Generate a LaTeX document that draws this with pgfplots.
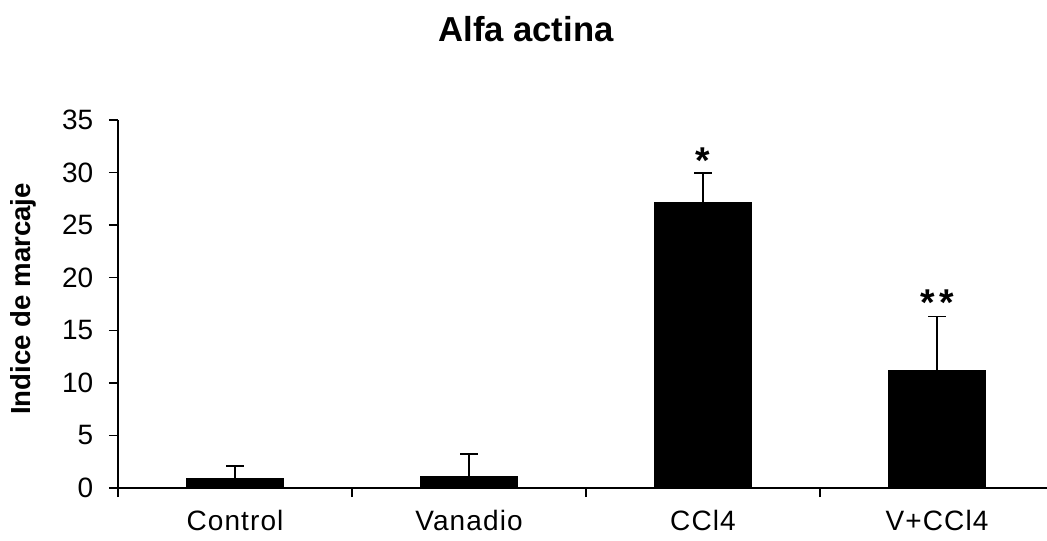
\documentclass[border=0pt]{standalone}
\usepackage{pgfplots}
\pgfplotsset{compat=1.18}
\usepackage{fontspec}
\setmainfont{Liberation Sans}
\newfontfamily\spacedfont[LetterSpace=4]{Liberation Sans}
\begin{document}
\begin{tikzpicture}
\path[use as bounding box] (0,0) rectangle (785.25pt,405pt);
\node[font=\fontsize{26}{30}\selectfont\bfseries] at (394.5pt,383.25pt) {Alfa actina};
\node[rotate=90, font=\fontsize{20.7}{24}\selectfont\bfseries] at (17.25pt,180.75pt) {Indice de marcaje};
\begin{axis}[
  at={(88.5pt,39pt)}, anchor=south west,
  scale only axis, width=696.75pt, height=276pt,
  xmin=-0.5, xmax=3.47, ymin=0, ymax=35,
  axis x line=bottom, axis y line=left,
  axis line style={-, line width=1.1pt},
  ytick={0,5,...,35},
  xtick={-0.5,0.5,1.5,2.5}, xticklabels={},
  extra x ticks={0,1,2,3},
  extra x tick labels={Control,Vanadio,CCl4,V+CCl4},
  extra x tick style={major tick length=0pt},
  tick align=outside, major tick length=6.75pt,
  tick style={line width=1.1pt, black},
  yticklabel style={font=\fontsize{21}{24}\selectfont, xshift=-8.25pt},
  xticklabel style={font=\fontsize{21}{24}\selectfont\spacedfont, inner sep=1pt, yshift=-15.5pt},
  /pgf/number format/assume math mode=true,
  ybar, bar width=72.75pt,
  clip=false,
]
\addplot[fill=black, draw=black,
  error bars/.cd, y dir=plus, y explicit,
  error bar style={line width=1.2pt, black},
  error mark options={rotate=90, line width=1.2pt, mark size=6.4pt, black}]
  coordinates {
  (0,0.95) +- (0,1.14)
  (1,1.14) +- (0,2.09)
  (2,27.2) +- (0,2.76)
  (3,11.2) +- (0,5.1)
  };
\node[anchor=north, inner sep=0pt, font=\fontsize{28}{30}\selectfont\bfseries] at (axis cs:2,32.34) {*};
\node[anchor=north, inner sep=0pt, font=\fontsize{28}{30}\selectfont\bfseries] at (axis cs:3,18.83) {*\kern3pt*};
\end{axis}
\end{tikzpicture}
\end{document}
